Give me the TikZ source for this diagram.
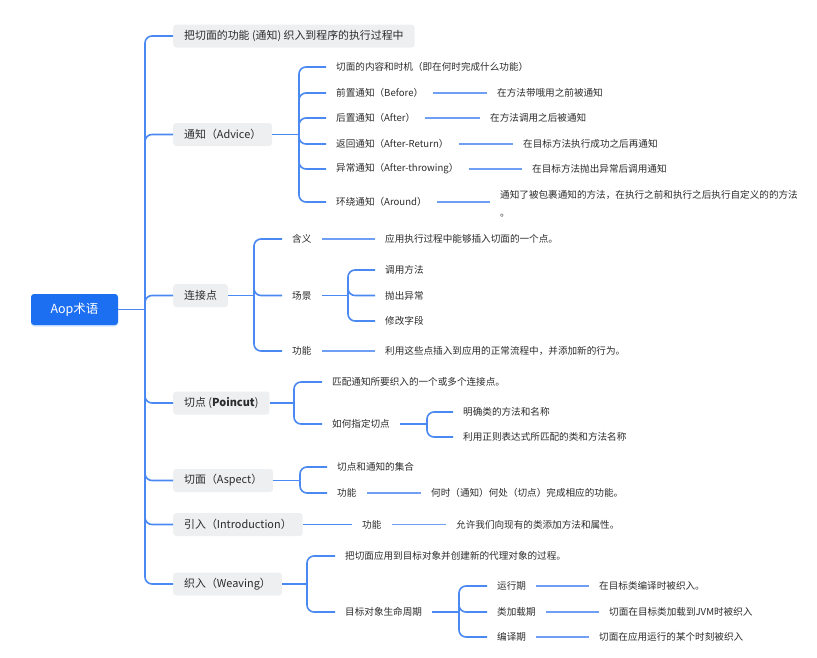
\documentclass[tikz,border=0pt]{standalone}
\usepackage{fontspec}
\setmainfont{Noto Sans CJK SC}
\usetikzlibrary{shadows}
\definecolor{rootblue}{HTML}{1D6FF2}
\definecolor{lineblue}{HTML}{4A88F2}
\definecolor{leafline}{HTML}{6E9FF5}
\definecolor{boxgray}{HTML}{EEEFF1}
\definecolor{txt}{HTML}{2B2B2B}
\newcommand{\leaffont}{\fontsize{9.6}{18}\selectfont}
\newcommand{\branchfont}{\fontsize{10.9}{12}\selectfont}
\tikzset{
  conn/.style={draw=lineblue, line width=1.6pt, rounded corners=7pt},
  lconn/.style={draw=leafline, line width=1.5pt},
  rootbox/.style={fill=rootblue, rounded corners=3pt, minimum width=87pt, minimum height=31pt, text=white, font=\fontsize{12.5}{14}\selectfont, drop shadow={opacity=0.18, fill=rootblue, shadow xshift=0pt, shadow yshift=-1.5pt}},
  branchbox/.style={fill=boxgray, rounded corners=3pt, inner xsep=11pt, minimum height=23pt, anchor=west, font=\branchfont, text=txt},
  leaf/.style={inner xsep=10pt, inner ysep=2pt, anchor=west, font=\leaffont, text=txt},
}
\begin{document}
\begin{tikzpicture}[x=1pt, y=-1pt]
\useasboundingbox (0,0) rectangle (817,657);
% root
\node[rootbox] (root) at (74.5,309.5) {Aop术语};
\coordinate (T) at (145,309.5);
% branches
\node[branchbox] (b1) at (173,36) {把切面的功能 (通知) 织入到程序的执行过程中};
\node[branchbox] (b2) at (173,134.5) {通知（Advice）};
\node[branchbox] (b3) at (173,295.5) {连接点};
\node[branchbox] (b4) at (173,403) {切点 (\textbf{Poincut})};
\node[branchbox] (b5) at (173,480.5) {切面（Aspect）};
\node[branchbox] (b6) at (173,524.5) {引入（Introduction）};
\node[branchbox] (b7) at (173,584) {织入（Weaving）};
\draw[conn] (root.east) -- (T);
\foreach \b in {b1,b2,b3,b4,b5,b6,b7} \draw[conn] (T) |- (\b.west);

% Advice
\coordinate (J2) at (299,134.5);
\node[leaf] (a1) at (326,67) {切面的内容和时机（即在何时完成什么功能）};
\node[leaf] (a2) at (326,93) {前置通知（Before）};
\node[leaf] (a3) at (326,118) {后置通知（After）};
\node[leaf] (a4) at (326,144) {返回通知（After-Return）};
\node[leaf] (a5) at (326,169) {异常通知（After-throwing）};
\node[leaf] (a6) at (326,202) {环绕通知（Around）};
\draw[conn] (b2.east) -- (J2);
\foreach \c in {a1,a2,a3,a4,a5,a6} \draw[conn] (J2) |- (\c.west);
\node[leaf] (a2l) at (487,93) {在方法带哦用之前被通知};
\node[leaf] (a3l) at (480,118) {在方法调用之后被通知};
\node[leaf] (a4l) at (513,144) {在目标方法执行成功之后再通知};
\node[leaf] (a5l) at (522,169) {在目标方法抛出异常后调用通知};
\node[leaf, align=left, anchor=north west] (a6l) at (490,188.5) {通知了被包裹通知的方法，在执行之前和执行之后执行自定义的的方法\\。};
\draw[lconn] (a2.east) -- (a2l.west);
\draw[lconn] (a3.east) -- (a3l.west);
\draw[lconn] (a4.east) -- (a4l.west);
\draw[lconn] (a5.east) -- (a5l.west);
\draw[lconn] (a6.east) -- (a6.east -| a6l.west);

% Join point
\coordinate (J3) at (254,295.5);
\node[leaf] (c1) at (282,239) {含义};
\node[leaf] (c2) at (282,295.5) {场景};
\node[leaf] (c3) at (282,351) {功能};
\draw[conn] (b3.east) -- (J3);
\foreach \c in {c1,c2,c3} \draw[conn] (J3) |- (\c.west);
\node[leaf] (c1l) at (375,239) {应用执行过程中能够插入切面的一个点。};
\node[leaf] (c3l) at (375,351) {利用这些点插入到应用的正常流程中，并添加新的行为。};
\draw[lconn] (c1.east) -- (c1l.west);
\draw[lconn] (c3.east) -- (c3l.west);
\coordinate (J3b) at (348,295.5);
\node[leaf] (c2a) at (375,270) {调用方法};
\node[leaf] (c2b) at (375,295.5) {抛出异常};
\node[leaf] (c2c) at (375,321) {修改字段};
\draw[conn] (c2.east) -- (J3b);
\foreach \c in {c2a,c2b,c2c} \draw[conn] (J3b) |- (\c.west);

% Pointcut
\coordinate (J4) at (294,403);
\node[leaf] (d1) at (322,382) {匹配通知所要织入的一个或多个连接点。};
\node[leaf] (d2) at (322,424) {如何指定切点};
\draw[conn] (b4.east) -- (J4);
\foreach \c in {d1,d2} \draw[conn] (J4) |- (\c.west);
\coordinate (J4b) at (427,424);
\node[leaf] (d2a) at (453,412) {明确类的方法和名称};
\node[leaf] (d2b) at (453,437) {利用正则表达式所匹配的类和方法名称};
\draw[conn] (d2.east) -- (J4b);
\foreach \c in {d2a,d2b} \draw[conn] (J4b) |- (\c.west);

% Aspect
\coordinate (J5) at (300,480.5);
\node[leaf] (e1) at (327,467) {切点和通知的集合};
\node[leaf] (e2) at (327,493) {功能};
\draw[conn] (b5.east) -- (J5);
\foreach \c in {e1,e2} \draw[conn] (J5) |- (\c.west);
\node[leaf] (e2l) at (421,493) {何时（通知）何处（切点）完成相应的功能。};
\draw[lconn] (e2.east) -- (e2l.west);

% Introduction
\node[leaf] (f1) at (352,524.5) {功能};
\draw[conn] (b6.east) -- (f1.west);
\node[leaf] (f1l) at (446,524.5) {允许我们向现有的类添加方法和属性。};
\draw[lconn] (f1.east) -- (f1l.west);

% Weaving
\coordinate (J7) at (307,584);
\node[leaf] (g1) at (335,556) {把切面应用到目标对象并创建新的代理对象的过程。};
\node[leaf] (g2) at (335,612) {目标对象生命周期};
\draw[conn] (b7.east) -- (J7);
\foreach \c in {g1,g2} \draw[conn] (J7) |- (\c.west);
\coordinate (J7b) at (459,612);
\node[leaf] (g2a) at (487,586) {运行期};
\node[leaf] (g2b) at (487,612) {类加载期};
\node[leaf] (g2c) at (487,637) {编译期};
\draw[conn] (g2.east) -- (J7b);
\foreach \c in {g2a,g2b,g2c} \draw[conn] (J7b) |- (\c.west);
\node[leaf] (g2al) at (589,586) {在目标类编译时被织入。};
\node[leaf] (g2bl) at (599,612) {切面在目标类加载到JVM时被织入};
\node[leaf] (g2cl) at (589,637) {切面在应用运行的某个时刻被织入};
\draw[lconn] (g2a.east) -- (g2al.west);
\draw[lconn] (g2b.east) -- (g2bl.west);
\draw[lconn] (g2c.east) -- (g2cl.west);
\end{tikzpicture}
\end{document}
